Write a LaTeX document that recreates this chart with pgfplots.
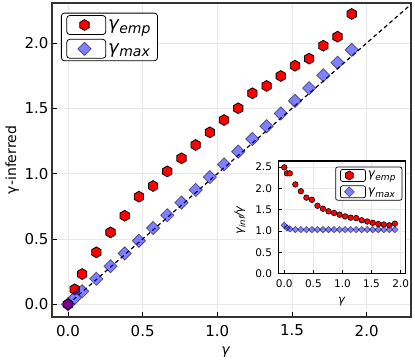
\documentclass[border=0pt]{standalone}
\usepackage{fontspec}
\setmainfont{DejaVu Sans}
\usepackage{pgfplots}
\usepackage{pgfplotstable}
\pgfplotsset{compat=1.18}

% hexagon with a vertex on top, like matplotlib 'h'
\pgfdeclareplotmark{hexa}{%
  \pgfpathmoveto{\pgfpointpolar{90}{\pgfplotmarksize}}%
  \pgfpathlineto{\pgfpointpolar{150}{\pgfplotmarksize}}%
  \pgfpathlineto{\pgfpointpolar{210}{\pgfplotmarksize}}%
  \pgfpathlineto{\pgfpointpolar{270}{\pgfplotmarksize}}%
  \pgfpathlineto{\pgfpointpolar{330}{\pgfplotmarksize}}%
  \pgfpathlineto{\pgfpointpolar{30}{\pgfplotmarksize}}%
  \pgfpathclose
  \pgfusepathqfillstroke
}

\pgfplotstableread{
x     emp    max
0     0      0
0.045 0.115  0.049
0.095 0.232  0.100
0.19  0.398  0.195
0.285 0.551  0.292
0.38  0.678  0.390
0.475 0.824  0.487
0.57  0.906  0.584
0.665 1.018  0.682
0.76  1.118  0.779
0.855 1.220  0.876
0.95  1.317  0.974
1.045 1.411  1.071
1.14  1.501  1.169
1.235 1.616  1.266
1.33  1.672  1.363
1.425 1.748  1.461
1.52  1.827  1.558
1.615 1.881  1.655
1.71  1.980  1.753
1.805 2.049  1.850
1.9   2.223  1.948
}\maindata

\pgfplotstableread{
x     emp   max
0     2.49  1.13
0.045 2.35  1.07
0.095 2.35  1.05
0.19  2.09  1.03
0.285 1.93  1.03
0.38  1.78  1.03
0.475 1.73  1.03
0.57  1.59  1.03
0.665 1.52  1.03
0.76  1.46  1.03
0.855 1.42  1.03
0.95  1.38  1.03
1.045 1.34  1.03
1.14  1.31  1.03
1.235 1.30  1.03
1.33  1.25  1.03
1.425 1.22  1.03
1.52  1.19  1.03
1.615 1.16  1.03
1.71  1.15  1.03
1.805 1.13  1.03
1.9   1.17  1.03
}\ratiodata

\newcommand\gsub[3]{{\itshape\fontsize{#1}{#1}\selectfont γ\kern0.5pt\raisebox{-0.22em}{\fontsize{#2}{#2}\selectfont #3}}}

\pgfplotsset{
  /pgf/number format/assume math mode=true,
  mainimg/.style={legend image code/.code={\path (0pt,-9.5pt) rectangle (39pt,9.5pt);
    \draw[##1] plot coordinates {(17.7pt,0pt)};}},
  insetimg/.style={legend image code/.code={\path (0pt,-6pt) rectangle (25pt,6pt);
    \draw[##1] plot coordinates {(8.8pt,0pt)};}},
  emp/.style={only marks, mainimg, mark=hexa, mark size=5.4pt,
    mark options={fill=red, draw=black, line width=0.8pt}},
  mx/.style={only marks, mainimg, mark=square*, mark size=4.7pt,
    mark options={rotate=45, fill=blue, fill opacity=0.5, draw=black, draw opacity=0.5, line width=0.8pt}},
}

\begin{document}
\begin{tikzpicture}
\begin{axis}[
  at={(0,0)}, anchor=south west,
  width=359pt, height=314pt, scale only axis,
  xmin=-0.107, xmax=2.297, ymin=-0.097, ymax=2.307,
  xtick={0,0.5,...,2}, ytick={0,0.5,...,2},
  tick pos=left, tick align=inside, major tick length=5pt,
  tick style={black, line width=0.8pt},
  grid=major, grid style={gray!18, line width=0.8pt},
  axis line style={black!80, line width=1.6pt},
  tick label style={font=\fontsize{15}{15}\selectfont},
  xticklabel style={yshift=-4.5pt, /pgf/number format/.cd, fixed, fixed zerofill, precision=1},
  yticklabel style={/pgf/number format/.cd, fixed, fixed zerofill, precision=1},
  xlabel={\itshape γ}, ylabel={γ-inferred},
  label style={font=\fontsize{14}{14}\selectfont},
  xlabel style={at={(axis description cs:0.483,-0.113)}, anchor=center},
  ylabel style={at={(axis description cs:-0.111,0.5)}, anchor=center},
  legend style={at={(axis description cs:0.025,0.969)}, anchor=north west,
    draw=black, line width=0.8pt, rounded corners=3pt, fill=white,
    inner xsep=5pt, inner ysep=2pt, row sep=4pt,
    nodes={inner sep=2pt}},
  legend cell align=left,
]
\addplot[black, line width=1.2pt, dash pattern=on 4pt off 3pt, forget plot]
  coordinates {(0,0) (2.297,2.297)};
\addplot[emp] table[x=x, y=emp] {\maindata};
\addlegendentry{\gsub{18}{14}{emp}}
\addplot[mx] table[x=x, y=max] {\maindata};
\addlegendentry{\gsub{18}{14}{max}}
\end{axis}

% inset
\begin{axis}[
  at={(226.3pt,43.5pt)}, anchor=south west,
  width=127.2pt, height=112.5pt, scale only axis,
  axis background/.style={fill=white},
  xmin=-0.103, xmax=2.083, ymin=0, ymax=2.64,
  xtick={0,0.5,...,2}, ytick={0,0.5,...,2.5},
  tick pos=left, tick align=inside, major tick length=3.5pt,
  tick style={black, line width=0.7pt},
  grid=major, grid style={gray!18, line width=0.7pt},
  axis line style={black, line width=1.2pt},
  tick label style={font=\fontsize{10.5}{10.5}\selectfont},
  xticklabel style={yshift=-3pt, /pgf/number format/.cd, fixed, fixed zerofill, precision=1},
  yticklabel style={xshift=-2.8pt, /pgf/number format/.cd, fixed, fixed zerofill, precision=1},
  xlabel={\itshape γ},
  ylabel={\gsub{11.5}{8.5}{inf}\itshape\fontsize{11.5}{11.5}\selectfont/γ},
  label style={font=\fontsize{11.5}{11.5}\selectfont},
  xlabel style={at={(axis description cs:0.498,-0.25)}, anchor=center},
  ylabel style={at={(axis description cs:-0.301,0.47)}, anchor=center},
  legend style={at={(axis description cs:0.975,0.949)}, anchor=north east,
    draw=black, line width=0.7pt, rounded corners=2pt, fill=white,
    inner xsep=4.5pt, inner ysep=2pt, row sep=3.7pt,
    nodes={inner sep=2pt}},
  legend cell align=left,
]
\addlegendimage{only marks, insetimg, mark=hexa, mark size=4.5pt, mark options={fill=red, draw=black, line width=0.7pt}}
\addlegendentry{\gsub{12}{9}{emp}}
\addlegendimage{only marks, insetimg, mark=square*, mark size=3.5pt, mark options={rotate=45, fill=blue, fill opacity=0.5, draw=black, draw opacity=0.5, line width=0.7pt}}
\addlegendentry{\gsub{12}{9}{max}}
\addplot[only marks, mark=*, mark size=2.8pt, mark options={fill=red, draw=black, line width=0.6pt}, forget plot]
  table[x=x, y=emp] {\ratiodata};
\addplot[only marks, mark=square*, mark size=2.3pt, mark options={rotate=45, fill=blue, fill opacity=0.5, draw=black, draw opacity=0.5, line width=0.6pt}, forget plot]
  table[x=x, y=max] {\ratiodata};
\end{axis}
\pgfresetboundingbox
\path[use as bounding box] (-52pt,-46pt) rectangle (363pt,317pt);
\end{tikzpicture}
\end{document}
